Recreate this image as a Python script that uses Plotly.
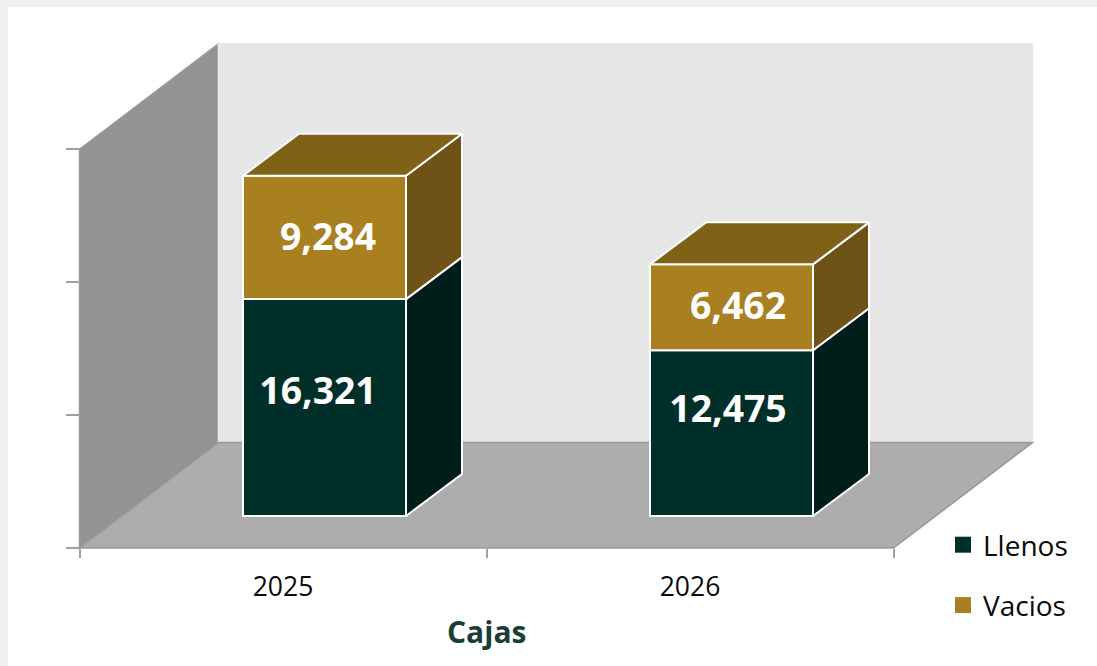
import plotly.graph_objects as go

categories = ["2025", "2026"]
llenos = [16321, 12475]
vacios = [9284, 6462]
y_ticks = [0, 10000, 20000, 30000]

W, H = 1097, 666
X0_PX, Y0_PX = 79.5, 548
PX_PER_CAT = 407
PX_PER_VAL = 132.9 / 10000

def dx(px):
    return px / PX_PER_CAT

def dy(px):
    return px / PX_PER_VAL

x_range = [-dx(X0_PX), dx(W - X0_PX)]
y_range = [-dy(H - Y0_PX), dy(Y0_PX)]

# Depths of the pseudo-3D frame and of the bars
WALL_X, WALL_Y = dx(139), dy(105.5)
BAR_X, BAR_Y = dx(56), dy(42)
SHIFT_X, SHIFT_Y = dx(41.5), dy(32)
BAR_W = dx(163)
Y_MAX = y_ticks[-1]
X_MAX = 2

GREEN, GREEN_SIDE = "#002f2a", "#001e19"
GOLD, GOLD_TOP, GOLD_SIDE = "#a88020", "#806118", "#6f5215"
EDGE = "white"
FONT = "Open Sans"
EDGE_W = 2

def poly(xs, ys, fill, line=None, lw=EDGE_W):
    return go.Scatter(
        x=xs + [xs[0]], y=ys + [ys[0]], mode="lines", fill="toself", fillcolor=fill,
        line=dict(color=line or fill, width=lw), hoverinfo="skip", showlegend=False,
    )

fig = go.Figure()

# Frame: walls and floor
frame = [
    ([0, WALL_X, WALL_X, 0], [0, WALL_Y, WALL_Y + Y_MAX, Y_MAX], "#939393", "#9a9a9a"),
    ([WALL_X, WALL_X + X_MAX, WALL_X + X_MAX, WALL_X],
     [WALL_Y, WALL_Y, WALL_Y + Y_MAX, WALL_Y + Y_MAX], "#e6e6e6", "#e9e9e9"),
    ([0, X_MAX, X_MAX + WALL_X, WALL_X], [0, 0, WALL_Y, WALL_Y], "#adadad", "#989898"),
]
shapes = [dict(type="rect", xref="paper", yref="paper", x0=8 / W, x1=1, y0=0, y1=1 - 7 / H,
               fillcolor="white", line_width=0, layer="below")]
for xs, ys, fill, line in frame:
    path = "M" + " L".join(f"{a},{b}" for a, b in zip(xs, ys)) + " Z"
    shapes.append(dict(type="path", path=path, xref="x", yref="y", fillcolor=fill,
                       line=dict(color=line, width=1.5), layer="below"))

centers = [i + 0.5 + SHIFT_X for i in range(len(categories))]
lefts = [c - BAR_W / 2 for c in centers]
base1 = [SHIFT_Y] * len(categories)
base2 = [b + v for b, v in zip(base1, llenos)]

fig.add_trace(go.Bar(x=centers, y=llenos, base=base1, width=BAR_W, marker=dict(color=GREEN, line=dict(color=EDGE, width=EDGE_W)),
                     showlegend=False, hoverinfo="skip"))
fig.add_trace(go.Bar(x=centers, y=vacios, base=base2, width=BAR_W, marker=dict(color=GOLD, line=dict(color=EDGE, width=EDGE_W)),
                     showlegend=False, hoverinfo="skip"))

for i in range(len(categories)):
    r = lefts[i] + BAR_W
    l = lefts[i]
    b1, t1 = base1[i], base1[i] + llenos[i]
    t2 = t1 + vacios[i]
    fig.add_trace(poly([r, r + BAR_X, r + BAR_X, r], [b1, b1 + BAR_Y, t1 + BAR_Y, t1], GREEN_SIDE, EDGE))
    fig.add_trace(poly([r, r + BAR_X, r + BAR_X, r], [t1, t1 + BAR_Y, t2 + BAR_Y, t2], GOLD_SIDE, EDGE))
    fig.add_trace(poly([l, r, r + BAR_X, l + BAR_X], [t2, t2, t2 + BAR_Y, t2 + BAR_Y], GOLD_TOP, EDGE))

# Value labels
label_dx_px = [[-6.5, -3.5], [3.5, 6.5]]
label_frac = [[0.557, 0.626], [0.47, 0.47]]
lx, ly, lt = [], [], []
for s, (vals, bases) in enumerate([(llenos, base1), (vacios, base2)]):
    for i, v in enumerate(vals):
        lx.append(centers[i] + dx(label_dx_px[s][i]))
        ly.append(bases[i] + v * label_frac[s][i])
        lt.append(f"{v:,}")
fig.add_trace(go.Scatter(x=lx, y=ly, text=lt, mode="text", textposition="middle center",
                         textfont=dict(family=FONT, size=37.3, color="white", weight="bold"),
                         showlegend=False, hoverinfo="skip"))

# Legend entries
for name, col in [("Llenos", GREEN), ("Vacios", GOLD)]:
    fig.add_trace(go.Scatter(x=[None], y=[None], mode="markers", name=name, legendgroup=name,
                             marker=dict(symbol="square", size=16, color=col)))

fig.update_layout(
    width=W, height=H, margin=dict(l=0, r=0, t=0, b=0, pad=0, autoexpand=False),
    paper_bgcolor="#eef0ef", plot_bgcolor="rgba(0,0,0,0)",
    barmode="overlay", shapes=shapes,
    font=dict(family=FONT, color="#0a0a0a"),
    legend=dict(x=943 / W, y=1 - 520 / H, xanchor="left", yanchor="top", font=dict(size=28, color="#0a0a0a"),
                tracegroupgap=21, bgcolor="rgba(0,0,0,0)"),
    xaxis=dict(
        range=x_range, domain=[0, 1], anchor="free", position=(H - Y0_PX) / H, showgrid=False, zeroline=False,
        showline=False, tickmode="array", tickvals=[i + 0.5 for i in range(len(categories))],
        ticktext=categories, ticks="", ticklabelstandoff=20,
        tickfont=dict(family=FONT, size=26.5, color="#0a0a0a"),
        minor=dict(tickmode="array", tickvals=[0, 1, 2], ticks="outside", ticklen=9, tickwidth=2, tickcolor="#a0a0a0", showgrid=False),
    ),
    yaxis=dict(
        range=y_range, domain=[0, 1], anchor="free", position=X0_PX / W, showgrid=False, zeroline=False,
        showline=False, tickmode="array", tickvals=y_ticks, showticklabels=False,
        ticks="outside", ticklen=14, tickwidth=2, tickcolor="#a0a0a0",
    ),
    annotations=[dict(text="<b>Cajas</b>", xref="x", yref="paper", x=1.0, y=1 - 631.5 / H, showarrow=False,
                      font=dict(family=FONT, size=30, color="#1a3d36"), xanchor="center", yanchor="middle")],
)
fig.write_html("out.html", config={"displayModeBar": False}, post_script="document.body.style.margin='0';")
